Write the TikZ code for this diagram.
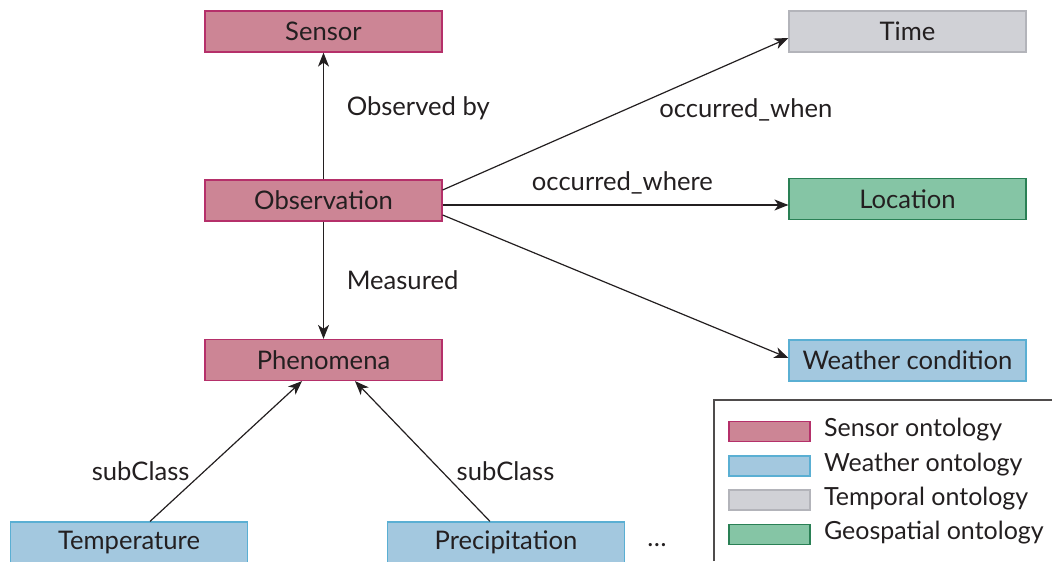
\documentclass[tikz,border=0pt]{standalone}
\usepackage{fontspec}
\setmainfont{Lato}
\usepackage{xcolor}
\usetikzlibrary{arrows,arrows.meta}

\definecolor{sensorfill}{HTML}{CC8595}
\definecolor{sensorline}{HTML}{B5306A}
\definecolor{weatherfill}{HTML}{A3C8DF}
\definecolor{weatherline}{HTML}{5AAFD3}
\definecolor{timefill}{HTML}{D0D1D6}
\definecolor{timeline}{HTML}{B3B4BA}
\definecolor{geofill}{HTML}{85C5A5}
\definecolor{geoline}{HTML}{2A8055}
\definecolor{ink}{HTML}{231F20}

\begin{document}
\begin{tikzpicture}[x=0.5pt,y=-0.5pt,
    font=\fontsize{12.8}{14}\selectfont,text=ink,
    box/.style={draw,line width=0.6pt,minimum width=118.5pt,minimum height=20.5pt,inner sep=0pt},
    sensorbox/.style={box,fill=sensorfill,draw=sensorline},
    weatherbox/.style={box,fill=weatherfill,draw=weatherline},
    timebox/.style={box,fill=timefill,draw=timeline},
    geobox/.style={box,fill=geofill,draw=geoline},
    swatch/.style={draw,line width=0.6pt,minimum width=40.5pt,minimum height=10pt,inner sep=0pt},
    legtext/.style={anchor=west,font=\fontsize{12.5}{14}\selectfont},
    rel/.style={-{Stealth[length=7pt,width=5.5pt,inset=2pt]},ink,line width=0.6pt}]
\useasboundingbox (0,0) rectangle (1052,561);

    % sensor ontology
    \node[sensorbox] (sensor) at (323.5,31.5) {Sensor};
    \node[sensorbox] (obs) at (323.5,200.5) {Observation};
    \node[sensorbox] (phen) at (323.5,360) {Phenomena};

    % other ontologies
    \node[timebox] (time) at (907.5,31.5) {Time};
    \node[geobox] (loc) at (907.5,199) {Location};
    \node[weatherbox] (cond) at (907.5,360.5) {Weather condition};
    \node[weatherbox] (temp) at (129,542.5) {Temperature};
    \node[weatherbox] (prec) at (506,542.5) {Precipitation};
    \node (more) at (657,545) {\dots};

    % relations
    \draw[rel] (obs) -- (sensor) node[pos=0.56,right=8pt] {Observed by};
    \draw[rel] (obs) -- (phen) node[pos=0.5,right=8pt] {Measured};
    \draw[rel] (obs.east |- 0,190) -- (time.west |- 0,38) node[pos=0.6,below right=1pt,yshift=4.5pt] {occurred\_when};
    \draw[rel] (obs.east |- 0,205) -- (loc.west |- 0,205) node[pos=0.52,above=2pt] {occurred\_where};
    \draw[rel] (obs.east |- 0,215) -- (cond.west |- 0,358);
    \draw[rel] (temp.north -| 150,0) -- (phen.south -| 302,0) node[pos=0.36,left=4pt] {subClass};
    \draw[rel] (prec.north -| 490,0) -- (phen.south -| 355,0) node[pos=0.36,right=4pt] {subClass};

    % legend
    \draw[ink!80,line width=0.6pt] (714,561) -- (714,400) -- (1052,400);
    \node[swatch,fill=sensorfill,draw=sensorline] (lsensor) at (769.5,431.5) {};
    \node[swatch,fill=weatherfill,draw=weatherline] (lweather) at (769.5,466) {};
    \node[swatch,fill=timefill,draw=timeline] (ltime) at (769.5,500) {};
    \node[swatch,fill=geofill,draw=geoline] (lgeo) at (769.5,534.5) {};
    \node[legtext] at (817,430) {Sensor ontology};
    \node[legtext] at (817,464.5) {Weather ontology};
    \node[legtext] at (817,498.5) {Temporal ontology};
    \node[legtext] at (817,533) {Geospatial ontology};
\end{tikzpicture}
\end{document}
